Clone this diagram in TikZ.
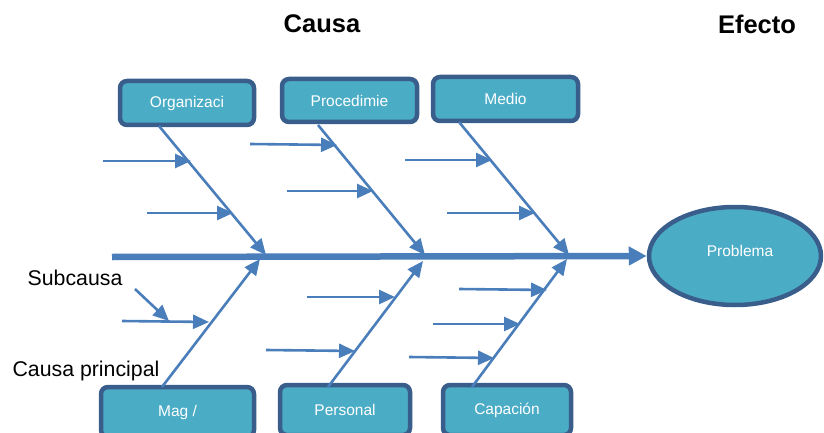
\documentclass[tikz,border=0pt]{standalone}
\usepackage{fontspec}
\setmainfont{Liberation Sans}
\usetikzlibrary{arrows.meta,shapes.geometric}
\definecolor{boxfill}{HTML}{4BACC6}
\definecolor{boxedge}{HTML}{3A5E8C}
\definecolor{bone}{HTML}{4A7EBB}
\begin{document}
\begin{tikzpicture}[x=1pt,y=-1pt,
  causebox/.style={draw=boxedge,fill=boxfill,line width=4.5pt,rounded corners=7pt,
    text=white,font=\fontsize{15.5}{16}\selectfont,inner sep=0pt},
  spine/.style={draw=bone,line width=6.5pt,-{Triangle[length=18pt,width=18pt]}},
  mainbone/.style={draw=bone,line width=2.6pt,-{Triangle[length=16pt,width=14pt]}},
  subbone/.style={draw=bone,line width=2.6pt,-{Triangle[length=16pt,width=14pt]}},
  heading/.style={font=\bfseries\fontsize{25.5}{27}\selectfont},
  legend/.style={font=\fontsize{21.3}{23}\selectfont}]
\useasboundingbox (0,0) rectangle (824,433);

% headings
\node[heading] (causa) at (322,24) {Causa};
\node[heading] (efecto) at (757,24) {Efecto};

% effect
\node[draw=boxedge,fill=boxfill,line width=4.5pt,ellipse,minimum width=172pt,minimum height=98pt] (prob) at (735,256) {};
\node[text=white,font=\fontsize{15.5}{16}\selectfont] (probtxt) at (740,251) {Problema};

% main cause boxes
\node[causebox,minimum width=134pt,minimum height=44pt] (org) at (187,103) {Organizaci};
\node[causebox,minimum width=135pt,minimum height=43pt] (proc) at (349.5,100.5) {Procedimie};
\node[causebox,minimum width=145pt,minimum height=44pt] (med) at (505.5,99) {Medio};
\node[causebox,minimum width=153pt,minimum height=50pt] (mag) at (177.5,412) {Mag /};
\node[causebox,minimum width=130pt,minimum height=50pt] (pers) at (345,410) {Personal};
\node[causebox,minimum width=128pt,minimum height=50pt] (cap) at (507,410) {Capación};

% spine
\coordinate (tail) at (112,257);
\draw[spine] (tail) -- (prob.west);

% bone anchors
\coordinate (o1) at (159,126);  \coordinate (o2) at (266,255);
\coordinate (p1) at (318,125);  \coordinate (p2) at (425,255);
\coordinate (m1) at (459,122);  \coordinate (m2) at (569,255);
\coordinate (g1) at (162,387);  \coordinate (g2) at (260,259);
\coordinate (r1) at (328,387);  \coordinate (r2) at (423,261);
\coordinate (c1) at (472,387);  \coordinate (c2) at (567,259);

\draw[mainbone] (o1) -- (o2);
\draw[mainbone] (p1) -- (p2);
\draw[mainbone] (m1) -- (m2);
\draw[mainbone] (g1) -- (g2);
\draw[mainbone] (r1) -- (r2);
\draw[mainbone] (c1) -- (c2);

% sub-causes
\coordinate (oa) at (103,161); \coordinate (ob) at (191,161);
\coordinate (oc) at (147,213); \coordinate (od) at (233,213);
\draw[subbone] (oa) -- (ob);
\draw[subbone] (oc) -- (od);

\coordinate (pa) at (250,144); \coordinate (pb) at (337,145);
\coordinate (pc) at (287,191); \coordinate (pd) at (373,191);
\draw[subbone] (pa) -- (pb);
\draw[subbone] (pc) -- (pd);

\coordinate (ma) at (405,160); \coordinate (mb) at (492,160);
\coordinate (mc) at (447,213); \coordinate (md) at (535,213);
\draw[subbone] (ma) -- (mb);
\draw[subbone] (mc) -- (md);

\coordinate (ga) at (122,321); \coordinate (gb) at (209,322);
\coordinate (gc) at (135,289); \coordinate (gd) at (169,321);
\draw[subbone] (ga) -- (gb);
\draw[subbone] (gc) -- (gd);

\coordinate (ra) at (307,297); \coordinate (rb) at (395,297);
\coordinate (rc) at (266,350); \coordinate (rd) at (355,351);
\draw[subbone] (ra) -- (rb);
\draw[subbone] (rc) -- (rd);

\coordinate (ca) at (459,289); \coordinate (cb) at (547,290);
\coordinate (cc) at (433,324); \coordinate (cd) at (520,324);
\coordinate (ce) at (409,357); \coordinate (cf) at (494,358);
\draw[subbone] (ca) -- (cb);
\draw[subbone] (cc) -- (cd);
\draw[subbone] (ce) -- (cf);

% legend texts
\node[legend] (sub) at (75,278) {Subcausa};
\node[legend] (princ) at (86,371) {Causa principal};
\end{tikzpicture}
\end{document}
